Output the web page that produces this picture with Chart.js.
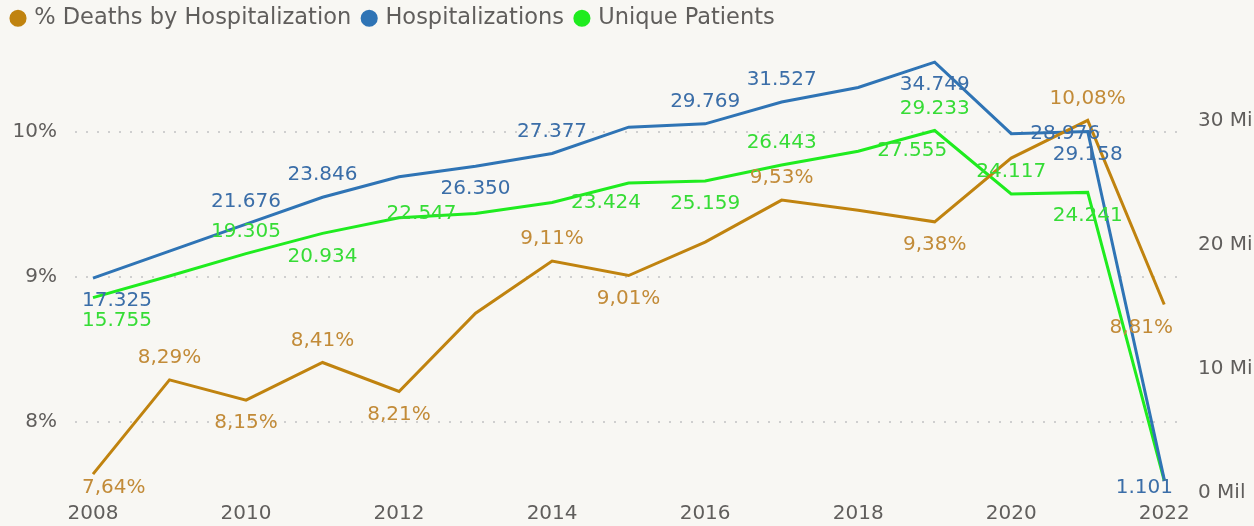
<!DOCTYPE html>
<html>
<head>
<meta charset="utf-8">
<title>Hospitalizations</title>
<script src="https://cdn.jsdelivr.net/npm/chart.js@4.4.1/dist/chart.umd.min.js"></script>
<style>
    html, body { margin: 0; padding: 0; background: #f8f7f3; }
    .chart-wrap { width: 1254px; height: 526px; position: relative; }
</style>
</head>
<body>
<div class="chart-wrap"><canvas id="chart"></canvas></div>
<script>
// values (counts; unlabeled points estimated)
const years = [2008, 2009, 2010, 2011, 2012, 2013, 2014, 2015, 2016, 2017, 2018, 2019, 2020, 2021, 2022];
const deathsPct = [7.64, 8.29, 8.15, 8.41, 8.21, 8.75, 9.11, 9.01, 9.24, 9.53, 9.46, 9.38, 9.82, 10.08, 8.81];
const hospitalizations = [17325, 19500, 21676, 23846, 25500, 26350, 27377, 29500, 29769, 31527, 32700, 34749, 28976, 29158, 1101];
const uniquePatients = [15755, 17500, 19305, 20934, 22200, 22547, 23424, 25000, 25159, 26443, 27555, 29233, 24117, 24241, 1000];

const yearTicks = [2008, 2010, 2012, 2014, 2016, 2018, 2020, 2022];
const pctTicks = [8, 9, 10];
const countTicks = [0, 10000, 20000, 30000];

// where each data label sits (empty = no label)
const deathsLabelPos = ['below', 'above', 'below', 'above', 'below', '', 'above', 'below', '', 'above', '', 'below', '', 'above', 'below'];
const hospLabelPos = ['below', '', 'above', 'above', '', 'below', 'above', '', 'above', 'above', '', 'below', 'right', 'below', 'below'];
const uniqueLabelPos = ['below', '', 'above', 'below', '', 'left', 'right', '', 'below', 'above', 'right', 'above', 'above', 'below', ''];

const FONT = {family: '"DejaVu Sans", Verdana, sans-serif', size: 20};
const LEGEND_FONT = {family: '"DejaVu Sans", Verdana, sans-serif', size: 22.5};
const TEXT_GRAY = '#605e5c';

const thousands = v => String(Math.round(v)).replace(/\B(?=(\d{3})+(?!\d))/g, '.');
const percent = v => v.toFixed(2).replace('.', ',') + '%';
const toPoints = vals => years.map((yr, i) => ({x: yr, y: vals[i]}));

const pointLabels = {
    id: 'pointLabels',
    afterDatasetsDraw(chart) {
        const {ctx, chartArea} = chart;
        ctx.save();
        ctx.font = FONT.size + 'px ' + FONT.family;
        ctx.textAlign = 'center';
        ctx.textBaseline = 'middle';
        chart.data.datasets.forEach((ds, i) => {
            const meta = chart.getDatasetMeta(i);
            meta.data.forEach((pt, j) => {
                const pos = ds.labelPos[j];
                if (!pos) return;
                const text = ds.format(ds.data[j].y);
                const w = ctx.measureText(text).width;
                let cx = pt.x;
                let cy = pt.y;
                if (pos === 'above') cy -= 22;
                else if (pos === 'below') cy += 23;
                else if (pos === 'right') cx += 19 + w / 2;
                else if (pos === 'left') cx -= 19 + w / 2;
                cx = Math.min(Math.max(cx, chartArea.left + 7 + w / 2), chartArea.right - 5 - w / 2);
                cy = Math.min(cy, chartArea.bottom - 5);
                ctx.fillStyle = ds.labelColor;
                ctx.fillText(text, cx, cy);
            });
        });
        ctx.restore();
    }
};

function line(label, vals, color, labelColor, axis, labelPos, format) {
    return {
        label: label,
        data: toPoints(vals),
        yAxisID: axis,
        borderColor: color,
        backgroundColor: color,
        borderWidth: 3,
        pointRadius: 0,
        pointHoverRadius: 0,
        tension: 0,
        labelPos: labelPos,
        labelColor: labelColor,
        format: format
    };
}

new Chart(document.getElementById('chart'), {
    type: 'line',
    data: {
        datasets: [
            line('% Deaths by Hospitalization', deathsPct, '#c0830f', '#c28b38', 'yPct', deathsLabelPos, percent),
            line('Hospitalizations', hospitalizations, '#2f74b5', '#3b6ea8', 'yCount', hospLabelPos, thousands),
            line('Unique Patients', uniquePatients, '#1fec1f', '#36dc36', 'yCount', uniqueLabelPos, thousands)
        ]
    },
    plugins: [pointLabels],
    options: {
        responsive: true,
        maintainAspectRatio: false,
        animation: false,
        layout: {padding: {top: -6, left: 0}},
        plugins: {
            legend: {
                position: 'top',
                align: 'start',
                labels: {
                    usePointStyle: true,
                    pointStyle: 'circle',
                    boxWidth: 10,
                    boxHeight: 10,
                    padding: 13,
                    color: TEXT_GRAY,
                    font: LEGEND_FONT
                }
            },
            tooltip: {enabled: false}
        },
        scales: {
            x: {
                type: 'linear',
                min: 2007.765,
                max: 2022.18,
                grid: {display: false},
                border: {display: false},
                afterBuildTicks: s => { s.ticks = yearTicks.map(v => ({value: v})); },
                afterFit: s => { s.height = 33; },
                ticks: {padding: 1, color: TEXT_GRAY, font: FONT, callback: v => String(v)}
            },
            yPct: {
                position: 'left',
                min: 7.51,
                max: 10.6376,
                grid: {color: '#cfcfcf', lineWidth: 2, drawTicks: false},
                border: {display: false, dash: [2, 9]},
                afterBuildTicks: s => { s.ticks = pctTicks.map(v => ({value: v})); },
                afterFit: s => { s.width = 75; },
                ticks: {padding: 18, color: TEXT_GRAY, font: FONT, callback: v => v + '%'}
            },
            yCount: {
                position: 'right',
                min: 0,
                max: 36570,
                grid: {display: false, drawTicks: false},
                border: {display: false},
                afterBuildTicks: s => { s.ticks = countTicks.map(v => ({value: v})); },
                afterFit: s => { s.width = 76; },
                ticks: {padding: 20, color: TEXT_GRAY, font: FONT, callback: v => (v / 1000) + ' Mil'}
            }
        }
    }
});
</script>
</body>
</html>
